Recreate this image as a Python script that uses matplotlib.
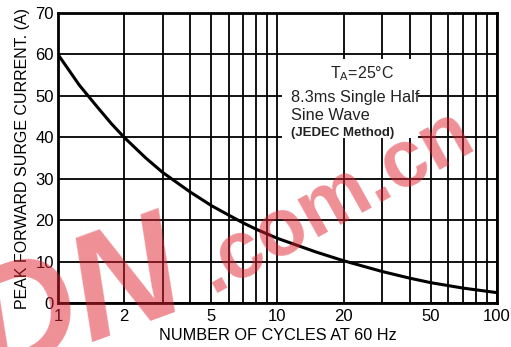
import matplotlib
matplotlib.use('Agg')
import matplotlib.pyplot as plt
from matplotlib.patches import Rectangle
from matplotlib.ticker import FixedLocator, NullFormatter

cycles = [1, 1.25, 1.5, 1.75, 2, 2.5, 3, 4, 5, 6, 7, 8, 10, 15, 20,
          30, 40, 50, 70, 100]
surge_current = [60, 52.6, 47.5, 43.3, 40, 35.1, 31.5, 26.8, 23.5, 21.2,
                 19.3, 17.8, 15.6, 12.3, 10.2, 7.6, 6.0, 4.9, 3.6, 2.5]

x_tick_values = [1, 2, 5, 10, 20, 50, 100]
x_tick_labels = ['1', '2', '5', '10', '20', '50', '100']
y_tick_values = [0, 10, 20, 30, 40, 50, 60, 70]
x_grid_values = [1, 2, 3, 4, 5, 6, 7, 8, 9, 10,
                 20, 30, 40, 50, 60, 70, 80, 90, 100]

plt.rcParams['font.family'] = ['Liberation Sans', 'DejaVu Sans']
plt.rcParams['mathtext.fontset'] = 'custom'
plt.rcParams['mathtext.rm'] = 'Liberation Sans'

WATERMARK = '#e0202f'


def main():
    fig = plt.figure(figsize=(5.11, 3.47), dpi=100)
    ax = fig.add_axes([0.1135, 0.1268, 0.8591, 0.8357])

    ax.set_xscale('log')
    ax.set_xlim(1, 100)
    ax.set_ylim(0, 70)

    ax.xaxis.set_major_locator(FixedLocator(x_grid_values))
    ax.xaxis.set_minor_locator(FixedLocator([]))
    ax.xaxis.set_major_formatter(NullFormatter())
    ax.set_yticks(y_tick_values)
    ax.grid(True, which='major', color='black', linewidth=1.3)
    ax.tick_params(length=0, labelsize=12, pad=3)
    ax.set_yticklabels([str(v) for v in y_tick_values])
    for value, label in zip(x_tick_values, x_tick_labels):
        ax.text(value, -1.5, label, ha='center', va='top', fontsize=12,
                transform=ax.transData)
    for spine in ax.spines.values():
        spine.set_linewidth(2)

    # white box behind the note, hides the grid
    ax.add_patch(Rectangle((0.51, 0.57), 0.31, 0.27, transform=ax.transAxes,
                           facecolor='white', edgecolor='none', zorder=2))

    ax.plot(cycles, surge_current, color='black', linewidth=2.2, zorder=3)

    note_color = '#222222'
    ax.text(0.692, 0.79, '$\\mathrm{T_A}$=25\u00b0C', transform=ax.transAxes,
            ha='center', va='center', fontsize=11.5, color=note_color,
            zorder=4)
    ax.text(0.53, 0.71, '8.3ms Single Half', transform=ax.transAxes,
            ha='left', va='center', fontsize=11.8, color=note_color,
            zorder=4)
    ax.text(0.53, 0.645, 'Sine Wave', transform=ax.transAxes,
            ha='left', va='center', fontsize=11.8, color=note_color,
            zorder=4)
    ax.text(0.53, 0.585, '(JEDEC Method)', transform=ax.transAxes,
            ha='left', va='center', fontsize=9.5, fontweight='bold',
            color=note_color, zorder=4)

    ax.set_xlabel('NUMBER OF CYCLES AT 60 Hz', fontsize=11.7, labelpad=15)
    ax.set_ylabel('PEAK FORWARD SURGE CURRENT. (A)', fontsize=11.5,
                  labelpad=4)

    # watermark
    fig.text(0.15, 0.12, 'DN', fontsize=108, fontweight='bold',
             style='italic', color=WATERMARK, alpha=0.5, rotation=20,
             ha='center', va='center', rotation_mode='anchor', zorder=10)
    fig.text(0.655, 0.42, '.com.cn', fontsize=58, fontweight='bold',
             color=WATERMARK, alpha=0.5, rotation=29,
             ha='center', va='center', rotation_mode='anchor', zorder=10)

    fig.savefig('out.png', dpi=100)


if __name__ == '__main__':
    main()
